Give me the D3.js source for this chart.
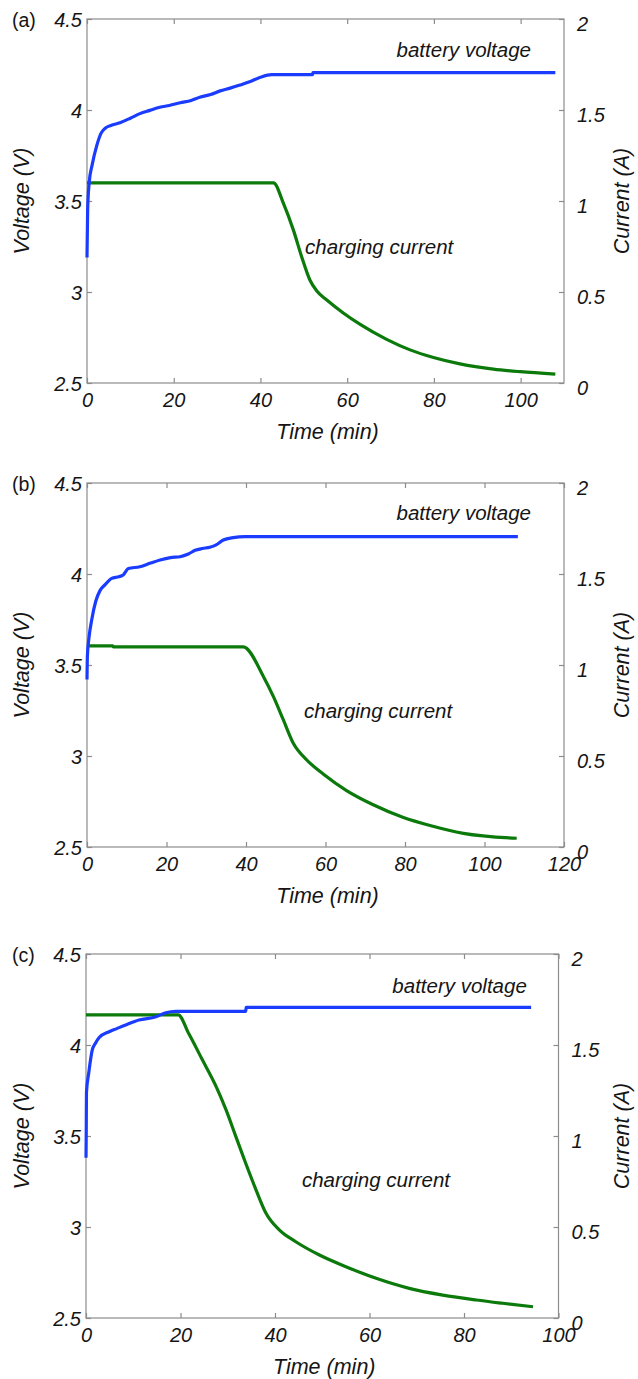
<!DOCTYPE html>
<html>
<head>
<meta charset="utf-8">
<script src="https://cdn.jsdelivr.net/npm/d3@7"></script>
<style>
    html, body { margin: 0; padding: 0; background: #fff; }
    svg text { font-family: "Liberation Sans", Arial, sans-serif; fill: #151515; }
</style>
</head>
<body>
<div id="chart"></div>
<script>
'use strict';

// Panel (a)
var timeVoltA = [0, 0.15, 0.5, 1.2, 2.2, 3.2, 4.2, 5.5, 7.6, 10, 12.2, 14.5, 16.8, 19, 21.5, 24, 26, 28.5, 30.7, 33, 35.3, 37.5, 40, 42.6, 52, 52.1, 108];
var voltA     = [3.19, 3.45, 3.6, 3.7, 3.8, 3.87, 3.9, 3.915, 3.93, 3.955, 3.98, 3.998, 4.015, 4.025, 4.04, 4.052, 4.07, 4.085, 4.105, 4.12, 4.137, 4.155, 4.18, 4.194, 4.194, 4.205, 4.205];
var timeCurA  = [0, 43, 45.3, 47.6, 49.5, 51.4, 53, 55.3, 59.1, 63, 69.1, 74.5, 79.9, 86, 93.7, 99.9, 108];
var curA      = [1.10, 1.10, 0.987, 0.84, 0.694, 0.566, 0.505, 0.456, 0.385, 0.322, 0.24, 0.182, 0.14, 0.105, 0.076, 0.062, 0.049];

// Panel (b)
var timeVoltB = [0, 0.1, 0.5, 1.2, 2.2, 3.3, 4.5, 6.2, 8, 9.1, 10.4, 13.3, 16, 18.4, 21, 23.4, 25.5, 27.2, 29, 30.9, 32.5, 34.3, 36.8, 39.7, 108.4];
var voltB     = [3.42, 3.55, 3.65, 3.75, 3.85, 3.91, 3.94, 3.976, 3.985, 3.994, 4.03, 4.04, 4.06, 4.077, 4.09, 4.095, 4.11, 4.13, 4.14, 4.147, 4.16, 4.187, 4.2, 4.205, 4.205];
var timeCurB  = [0, 6.5, 6.6, 39.3, 44.4, 46.9, 49.4, 51.9, 55.3, 59.5, 65.3, 72, 79.6, 86.3, 94.7, 108.1];
var curB      = [1.105, 1.105, 1.10, 1.10, 0.936, 0.826, 0.698, 0.57, 0.478, 0.40, 0.31, 0.232, 0.162, 0.118, 0.075, 0.048];

// Panel (c)
var timeVoltC = [0, 0.05, 0.1, 0.6, 1.3, 2, 2.75, 4.9, 6.5, 8.4, 11.2, 14.8, 16.9, 19, 33.8, 33.9, 94.2];
var voltC     = [3.38, 3.52, 3.74, 3.85, 3.97, 4.01, 4.04, 4.073, 4.09, 4.11, 4.137, 4.155, 4.177, 4.185, 4.185, 4.207, 4.207];
var timeCurC  = [0, 19.5, 21.8, 24.6, 27.5, 29.6, 31.7, 33.8, 36, 38.1, 40.9, 44.4, 49.4, 55, 61.4, 68.4, 75.5, 82.6, 88.2, 94.6];
var curC      = [1.665, 1.665, 1.56, 1.42, 1.274, 1.146, 0.998, 0.85, 0.703, 0.575, 0.484, 0.419, 0.346, 0.282, 0.218, 0.163, 0.126, 0.099, 0.081, 0.062];

// Axes
var voltTicks = [2.5, 3, 3.5, 4, 4.5];
var curTicks  = [0, 0.5, 1, 1.5, 2];
var timeTicksA = [0, 20, 40, 60, 80, 100];
var timeTicksB = [0, 20, 40, 60, 80, 100, 120];
var timeTicksC = [0, 20, 40, 60, 80, 100];

var panels = [
    {tag: '(a)', tV: timeVoltA, v: voltA, tI: timeCurA, i: curA, xMax: 110, xTicks: timeTicksA,
     left: 87, right: 564, top: 19, bottom: 383, bvAt: [102.4, 4.33], ccAt: [50.3, 3.247]},
    {tag: '(b)', tV: timeVoltB, v: voltB, tI: timeCurB, i: curB, xMax: 120, xTicks: timeTicksB,
     left: 87, right: 564, top: 483, bottom: 847, bvAt: [111.7, 4.335], ccAt: [54.6, 3.247]},
    {tag: '(c)', tV: timeVoltC, v: voltC, tI: timeCurC, i: curC, xMax: 100, xTicks: timeTicksC,
     left: 86, right: 558.5, top: 954, bottom: 1318, bvAt: [93.3, 4.325], ccAt: [45.7, 3.258]}
];

var W = 638, H = 1379;
var axisColor = '#8c8c8c';
var blue = '#1a3cff', green = '#0b7a0b';
var fmt = d3.format('~g');

var svg = d3.select('#chart').append('svg')
    .attr('width', W)
    .attr('height', H);

panels.forEach(function (p) {
    var x = d3.scaleLinear().domain([0, p.xMax]).range([p.left, p.right]),
        yV = d3.scaleLinear().domain([2.5, 4.5]).range([p.bottom, p.top]),
        yI = d3.scaleLinear().domain([0, 2]).range([p.bottom, p.top]),
        g = svg.append('g');

    // box
    g.append('rect')
        .attr('x', p.left).attr('y', p.top)
        .attr('width', p.right - p.left).attr('height', p.bottom - p.top)
        .attr('fill', 'none').attr('stroke', axisColor).attr('stroke-width', 1.2);

    // axes (ticks pointing inward, labels styled separately)
    var bottomAxis = d3.axisBottom(x).tickValues(p.xTicks).tickSize(-5).tickFormat(fmt);
    var topAxis = d3.axisTop(x).tickValues(p.xTicks).tickSize(-5).tickFormat('');
    var leftAxis = d3.axisLeft(yV).tickValues(voltTicks).tickSize(-5).tickFormat(fmt);
    var rightAxis = d3.axisRight(yI).tickValues(curTicks).tickSize(-5).tickFormat(fmt);

    function style(sel, lx, ly, anchor) {
        sel.select('.domain').remove();
        sel.selectAll('.tick line').attr('stroke', axisColor).attr('stroke-width', 1.2);
        sel.selectAll('.tick text')
            .attr('font-size', 20).attr('font-style', 'italic')
            .attr('font-family', '"Liberation Sans", Arial, sans-serif')
            .attr('fill', '#151515')
            .attr('x', lx).attr('y', ly).attr('dy', '0.35em')
            .attr('text-anchor', anchor);
    }

    g.append('g').attr('transform', 'translate(0,' + p.bottom + ')').call(bottomAxis)
        .call(function (s) { style(s, 0, 17, 'middle'); });
    g.append('g').attr('transform', 'translate(0,' + p.top + ')').call(topAxis)
        .call(function (s) { style(s, 0, 0, 'middle'); });
    g.append('g').attr('transform', 'translate(' + p.left + ',0)').call(leftAxis)
        .call(function (s) { style(s, -5, 0, 'end'); });
    g.append('g').attr('transform', 'translate(' + p.right + ',0)').call(rightAxis)
        .call(function (s) { style(s, 13, 4, 'start'); });

    // curves
    var lineV = d3.line().curve(d3.curveMonotoneX)
        .x(function (d) { return x(d[0]); })
        .y(function (d) { return yV(d[1]); });
    var lineI = d3.line().curve(d3.curveMonotoneX)
        .x(function (d) { return x(d[0]); })
        .y(function (d) { return yI(d[1]); });

    g.append('path')
        .datum(d3.zip(p.tI, p.i))
        .attr('d', lineI)
        .attr('fill', 'none').attr('stroke', green).attr('stroke-width', 3.2)
        .attr('stroke-linejoin', 'round');

    g.append('path')
        .datum(d3.zip(p.tV, p.v))
        .attr('d', lineV)
        .attr('fill', 'none').attr('stroke', blue).attr('stroke-width', 3.2)
        .attr('stroke-linejoin', 'round');

    // annotations
    g.append('text')
        .attr('x', x(p.bvAt[0])).attr('y', yV(p.bvAt[1])).attr('dy', '0.35em')
        .attr('text-anchor', 'end').attr('font-size', 20.5).attr('font-style', 'italic')
        .text('battery voltage');
    g.append('text')
        .attr('x', x(p.ccAt[0])).attr('y', yV(p.ccAt[1])).attr('dy', '0.35em')
        .attr('text-anchor', 'start').attr('font-size', 20.5).attr('font-style', 'italic')
        .text('charging current');

    // labels
    g.append('text')
        .attr('x', 12).attr('y', p.top + 1).attr('dy', '0.35em')
        .attr('font-size', 19.5)
        .text(p.tag);
    g.append('text')
        .attr('x', (p.left + p.right) / 2 + 2).attr('y', p.bottom + 48).attr('dy', '0.35em')
        .attr('text-anchor', 'middle').attr('font-size', 21.5).attr('font-style', 'italic')
        .text('Time (min)');
    g.append('text')
        .attr('transform', 'translate(21,' + ((p.top + p.bottom) / 2) + ') rotate(-90)')
        .attr('dy', '0.35em')
        .attr('text-anchor', 'middle').attr('font-size', 21.5).attr('font-style', 'italic')
        .text('Voltage (V)');
    g.append('text')
        .attr('transform', 'translate(621,' + ((p.top + p.bottom) / 2) + ') rotate(-90)')
        .attr('dy', '0.35em')
        .attr('text-anchor', 'middle').attr('font-size', 21.5).attr('font-style', 'italic')
        .text('Current (A)');
});
</script>
</body>
</html>
